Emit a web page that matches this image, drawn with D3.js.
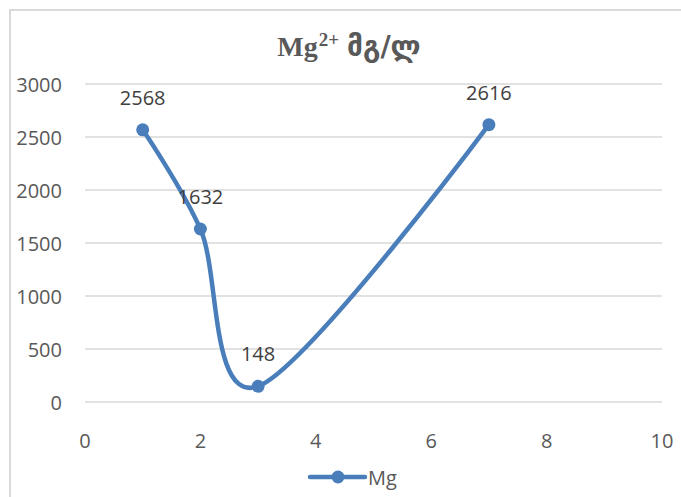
<!DOCTYPE html>
<html>
<head>
<meta charset="utf-8">
<script src="https://cdn.jsdelivr.net/npm/d3@7"></script>
<style>
  body { margin: 0; background: #fff; }
  #here { width: 681px; height: 497px; }
  text { font-family: "Open Sans", "DejaVu Sans", sans-serif; fill: #595959; }
</style>
</head>
<body>
<div id="here"></div>
<script>
// chart data
const xValues = [1, 2, 3, 7];
const mgValues = [2568, 1632, 148, 2616];
const seriesName = "Mg";
const xTicks = [0, 2, 4, 6, 8, 10];
const yTicks = [0, 500, 1000, 1500, 2000, 2500, 3000];

const width = 681;
const height = 497;
const blue = "#4a7ebb";

const svg = d3.select("#here")
    .append("svg")
    .attr("width", width)
    .attr("height", height);

// chart border (only top and left visible in the picture)
svg.append("rect")
    .attr("x", 10)
    .attr("y", 10)
    .attr("width", width + 20)
    .attr("height", height + 20)
    .attr("fill", "none")
    .attr("stroke", "#d9d9d9")
    .attr("stroke-width", 2);

const xScale = d3.scaleLinear()
    .domain([0, 10])
    .range([85, 662]);

const yScale = d3.scaleLinear()
    .domain([0, 3000])
    .range([402, 84]);

// gridlines
svg.append("g")
    .selectAll("line")
    .data(yTicks)
    .enter()
    .append("line")
    .attr("x1", xScale(0))
    .attr("x2", xScale(10))
    .attr("y1", d => yScale(d))
    .attr("y2", d => yScale(d))
    .attr("stroke", "#d9d9d9")
    .attr("stroke-width", 1.5);

// y tick labels
svg.append("g")
    .selectAll("text")
    .data(yTicks)
    .enter()
    .append("text")
    .attr("x", 62)
    .attr("y", d => yScale(d) + 7.5)
    .attr("text-anchor", "end")
    .attr("font-size", 20)
    .text(d => d);

// x tick labels
svg.append("g")
    .selectAll("text")
    .data(xTicks)
    .enter()
    .append("text")
    .attr("x", d => xScale(d))
    .attr("y", 448)
    .attr("text-anchor", "middle")
    .attr("font-size", 20)
    .text(d => d);

// title
const title = svg.append("text")
    .attr("x", 349)
    .attr("y", 56)
    .attr("text-anchor", "middle")
    .attr("font-weight", "bold");
title.append("tspan")
    .attr("font-family", "Liberation Serif, serif")
    .attr("font-size", 28)
    .text("Mg");
title.append("tspan")
    .attr("font-family", "Liberation Serif, serif")
    .attr("font-size", 19)
    .attr("dx", 1)
    .attr("dy", -10)
    .text("2+");
title.append("tspan")
    .attr("font-family", "DejaVu Sans, sans-serif")
    .attr("font-size", 28)
    .attr("dx", 8)
    .attr("dy", 10)
    .text("მგ/ლ");

const data = xValues.map((x, i) => ({ x: x, y: mgValues[i] }));

// smoothed line
const line = d3.line()
    .x(d => xScale(d.x))
    .y(d => yScale(d.y))
    .curve(d3.curveCardinal.tension(0));

svg.append("path")
    .datum(data)
    .attr("d", line)
    .attr("fill", "none")
    .attr("stroke", blue)
    .attr("stroke-width", 4.5)
    .attr("stroke-linecap", "round");

svg.append("g")
    .selectAll("circle")
    .data(data)
    .enter()
    .append("circle")
    .attr("cx", d => xScale(d.x))
    .attr("cy", d => yScale(d.y))
    .attr("r", 6.5)
    .attr("fill", blue);

// data labels
svg.append("g")
    .selectAll("text")
    .data(data)
    .enter()
    .append("text")
    .attr("x", d => xScale(d.x))
    .attr("y", d => yScale(d.y) - 25)
    .attr("text-anchor", "middle")
    .attr("font-size", 20)
    .style("fill", "#404040")
    .text(d => d.y);

// legend
svg.append("line")
    .attr("x1", 310)
    .attr("x2", 365)
    .attr("y1", 477)
    .attr("y2", 477)
    .attr("stroke", blue)
    .attr("stroke-width", 4.5)
    .attr("stroke-linecap", "round");
svg.append("circle")
    .attr("cx", 338)
    .attr("cy", 477)
    .attr("r", 6.5)
    .attr("fill", blue);
svg.append("text")
    .attr("x", 368)
    .attr("y", 485)
    .attr("font-size", 20)
    .text(seriesName);
</script>
</body>
</html>
